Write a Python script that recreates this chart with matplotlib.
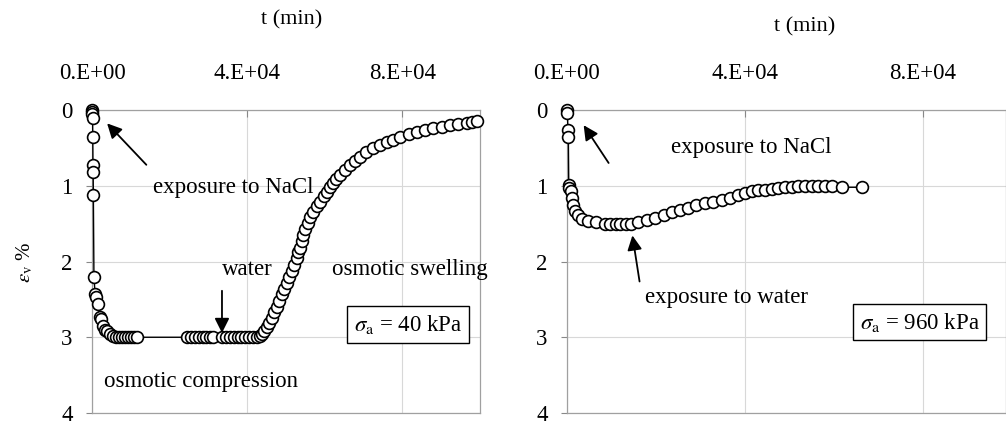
import numpy as np
import matplotlib
matplotlib.use("Agg")
from matplotlib import pyplot as plt

plt.rcParams['font.family'] = ['Liberation Serif', 'DejaVu Serif']
plt.rcParams['mathtext.fontset'] = 'stix'

# left test: sigma_a = 40 kPa
t_left = [0, 50, 100, 150, 200, 250, 300, 350,
          500, 800, 1100, 1500, 2000, 2400, 2800, 3400, 3900, 4600, 5400,
          6200, 7000, 7700, 8500, 9300, 10000, 10800, 11600,
          24500, 25500, 26500, 27500, 28500, 29500, 30500, 31200,
          33500, 34500, 35500, 36500, 37500, 38500, 39500, 40500, 41500, 42500,
          43300, 43800, 44400, 45100, 45700, 46400, 47000, 47700, 48300, 49000,
          49600, 50300, 50900, 51500, 52100, 52800, 53200, 53600, 54000, 54400,
          55000, 55700, 56300, 57000, 57900, 58800, 59700, 60600, 61300, 62100,
          63000, 63900, 65200, 66500, 67800, 69100, 70700, 72400, 74200, 76000,
          77700, 79400, 81600, 83800, 85800, 87900, 90100, 92300, 94400, 96600,
          98000, 99200]
e_left = [0.0, 0.03, 0.05, 0.1, 0.36, 0.72, 0.82, 1.12,
          2.2, 2.43, 2.47, 2.56, 2.73, 2.76, 2.85, 2.9, 2.92, 2.96, 2.98,
          3.0, 3.0, 3.0, 3.0, 3.0, 3.0, 3.0, 3.0,
          3.0, 3.0, 3.0, 3.0, 3.0, 3.0, 3.0, 3.0,
          3.0, 3.0, 3.0, 3.0, 3.0, 3.0, 3.0, 3.0, 3.0, 3.0,
          2.98, 2.96, 2.92, 2.87, 2.81, 2.74, 2.67, 2.6, 2.52, 2.43,
          2.36, 2.28, 2.2, 2.13, 2.04, 1.95, 1.88, 1.82, 1.73, 1.65,
          1.57, 1.49, 1.41, 1.34, 1.27, 1.21, 1.14, 1.08, 1.02, 0.96,
          0.91, 0.86, 0.79, 0.72, 0.67, 0.62, 0.56, 0.5, 0.46, 0.42,
          0.39, 0.36, 0.32, 0.29, 0.26, 0.24, 0.22, 0.2, 0.18, 0.17,
          0.16, 0.15]

# right test: sigma_a = 960 kPa
t_right = [0, 100, 200, 300, 400, 500, 800, 1100, 1350, 1800, 2500, 3400,
           4700, 6500, 8500, 9700, 10900, 12000, 13200, 14300, 16000, 17900,
           19800, 21700, 23600, 25400, 27200, 29100, 31000, 32900, 34800,
           36600, 38400, 40000, 41600, 43000, 44500, 46000, 47500, 49000,
           50500, 52000, 53500, 55000, 56500, 58000, 59500, 61800, 66300]
e_right = [0.0, 0.04, 0.26, 0.35, 0.99, 1.03, 1.07, 1.16, 1.25, 1.33, 1.39, 1.44,
           1.46, 1.48, 1.5, 1.51, 1.51, 1.51, 1.51, 1.5, 1.48, 1.45,
           1.42, 1.38, 1.35, 1.32, 1.29, 1.26, 1.23, 1.21, 1.19,
           1.16, 1.12, 1.1, 1.07, 1.06, 1.05, 1.04, 1.03, 1.02,
           1.01, 1.0, 1.0, 1.0, 1.0, 1.0, 1.0, 1.02, 1.02]

x_ticks = [0, 40000, 80000]
x_tick_labels = ['0.E+00', '4.E+04', '8.E+04']
y_ticks = [0, 1, 2, 3, 4]

fig = plt.figure(figsize=(10.06, 4.25), dpi=100)
ax1 = fig.add_axes([92 / 1006, 1 - 413 / 425, 388 / 1006, 303 / 425])
ax2 = fig.add_axes([567 / 1006, 1 - 413 / 425, 439 / 1006, 303 / 425])


def style_axis(ax, xmax):
    ax.set_xlim(0, xmax)
    ax.set_ylim(4, 0)
    ax.set_xticks(x_ticks)
    ax.set_xticklabels(x_tick_labels)
    ax.set_yticks(y_ticks)
    ax.xaxis.tick_top()
    ax.tick_params(axis='x', direction='in', length=5, pad=19, labelsize=16.5,
                   color='#888888')
    ax.tick_params(axis='y', direction='out', length=4, pad=10, labelsize=16.5,
                   color='#888888')
    ax.grid(True, color='#d8d8d8', lw=0.8)
    ax.set_axisbelow(True)
    for s in ax.spines.values():
        s.set_color('#a0a0a0')
        s.set_linewidth(0.9)


for ax, t, e in [(ax1, t_left, e_left), (ax2, t_right, e_right)]:
    ax.plot(t, e, '-', color='black', lw=1.0, marker='o', ms=8.5,
            mfc='white', mec='black', mew=1.2, clip_on=False, zorder=3)

style_axis(ax1, 100000)
style_axis(ax2, 98650)

fs = 16.5
arrow = dict(arrowstyle='-|>', color='black', lw=1.3, mutation_scale=22)

# left panel notes
ax1.annotate('', xy=(3400, 0.15), xytext=(14500, 0.75), arrowprops=arrow)
ax1.text(36500, 1.02, 'exposure to NaCl', fontsize=fs, ha='center', va='center')
ax1.annotate('', xy=(33500, 2.98), xytext=(33500, 2.35), arrowprops=arrow)
ax1.text(40000, 2.1, 'water', fontsize=fs, ha='center', va='center')
ax1.text(82000, 2.1, 'osmotic swelling', fontsize=fs, ha='center', va='center')
ax1.text(28000, 3.58, 'osmotic compression', fontsize=fs, ha='center', va='center')
ax1.text(81500, 2.83, r'$\sigma_{\rm a}$ = 40 kPa', fontsize=fs, ha='center',
         va='center', bbox=dict(boxstyle='square,pad=0.3', fc='white',
                                ec='black', lw=1.0))

# right panel notes
ax2.annotate('', xy=(3400, 0.17), xytext=(9700, 0.73), arrowprops=arrow)
ax2.text(41500, 0.5, 'exposure to NaCl', fontsize=fs, ha='center', va='center')
ax2.annotate('', xy=(14600, 1.62), xytext=(16400, 2.3), arrowprops=arrow)
ax2.text(35800, 2.47, 'exposure to water', fontsize=fs, ha='center', va='center')
ax2.text(79200, 2.8, r'$\sigma_{\rm a}$ = 960 kPa', fontsize=fs, ha='center',
         va='center', bbox=dict(boxstyle='square,pad=0.3', fc='white',
                                ec='black', lw=1.0))

fig.text(292 / 1006, 1 - 20 / 425, 't (min)', fontsize=16, ha='center', va='center')
fig.text(805 / 1006, 1 - 27 / 425, 't (min)', fontsize=16, ha='center', va='center')
fig.text(25 / 1006, 1 - 262 / 425, r'$\varepsilon_{\rm v}$ %', fontsize=15,
         rotation=90, ha='center', va='center')

fig.savefig('out.png', dpi=100)
